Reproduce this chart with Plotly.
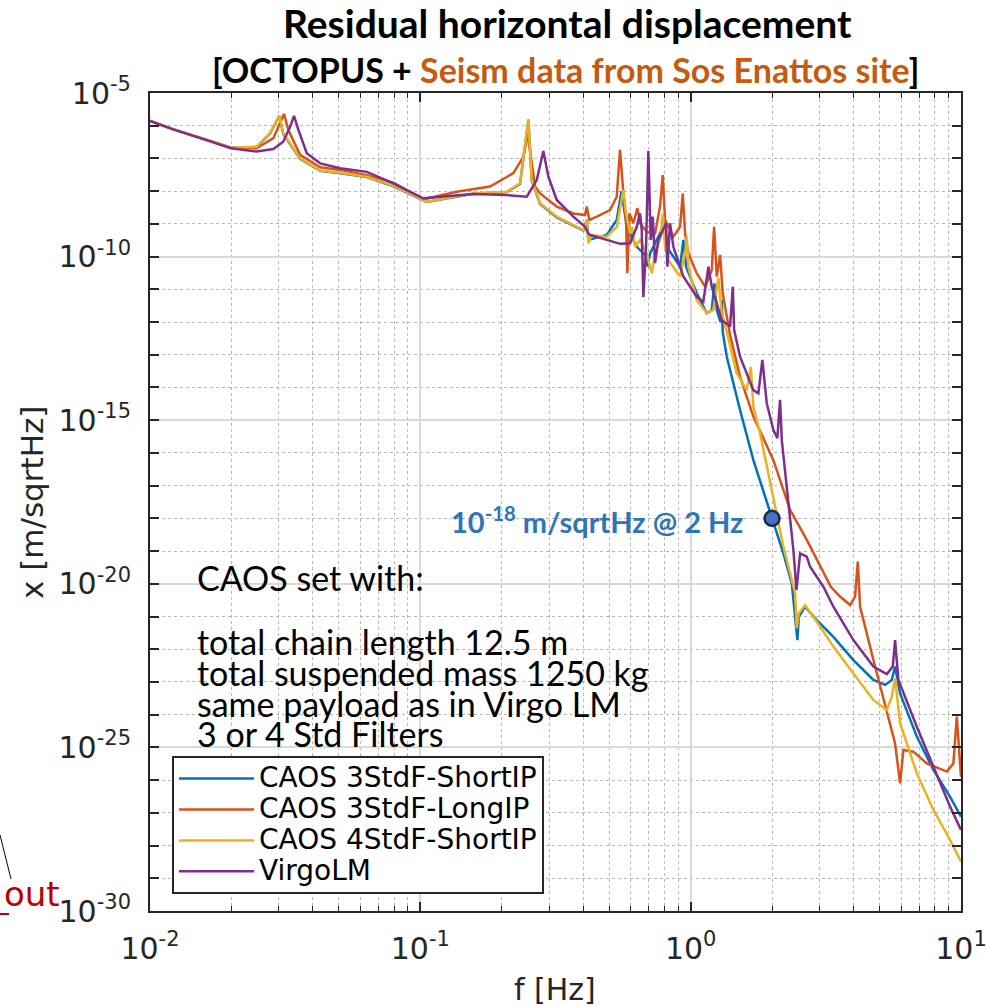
import plotly.graph_objects as go

# ---------------- data (frequency in Hz, amplitude as log10 of m/sqrtHz) ----------------
freq_blue = [0.01, 0.0122, 0.0162, 0.0199, 0.0248, 0.0278, 0.0301, 0.0311, 0.0359, 0.0426,
             0.0505, 0.0634, 0.0795, 0.1056, 0.157, 0.2087, 0.2338, 0.251, 0.2583, 0.2773,
             0.3197, 0.4009, 0.4127, 0.4184, 0.4893, 0.5327, 0.555, 0.5802, 0.6318, 0.688,
             0.6915, 0.7076, 0.7705, 0.804, 0.8159, 0.9137, 0.9397, 0.9616, 1.0534, 1.147,
             1.197, 1.224, 1.249, 1.29, 1.303, 1.314, 1.36, 1.523, 1.706, 2.0,
             2.203, 2.366, 2.482, 2.512, 2.65, 2.927, 3.373, 3.999, 4.742, 5.239,
             5.546, 5.704, 5.952, 6.864, 7.907, 9.114, 10.0]
logamp_blue = [-5.85, -6.11, -6.44, -6.67, -6.65, -6.24, -5.70, -6.25, -7.01, -7.38,
               -7.45, -7.57, -7.85, -8.33, -8.08, -8.03, -7.78, -5.82, -7.68, -8.39,
               -8.80, -9.20, -8.88, -9.49, -9.34, -8.88, -8.00, -9.09, -9.70, -10.00,
               -10.31, -9.90, -9.29, -8.88, -9.70, -10.31, -9.49, -10.31, -11.12, -11.73,
               -11.63, -10.82, -11.63, -12.00, -11.33, -12.30, -13.06, -14.69, -16.22, -18.00,
               -19.07, -19.99, -21.72, -21.01, -20.70, -21.11, -21.62, -22.33, -22.94, -23.09,
               -22.94, -22.53, -23.35, -24.67, -25.69, -26.51, -27.12]

freq_orange = [0.01, 0.0122, 0.0162, 0.0199, 0.0248, 0.0286, 0.0313, 0.0325, 0.0359, 0.0426,
               0.0505, 0.0634, 0.0795, 0.1026, 0.1364, 0.181, 0.2208, 0.2405, 0.2497, 0.2657,
               0.2773, 0.3197, 0.3681, 0.4068, 0.4127, 0.422, 0.4495, 0.5032, 0.5327, 0.5479,
               0.5636, 0.5768, 0.5832, 0.5933, 0.6138, 0.635, 0.6498, 0.688, 0.7384, 0.7705,
               0.7884, 0.804, 0.863, 0.9137, 0.935, 0.9535, 0.9806, 1.0534, 1.131, 1.197,
               1.221, 1.249, 1.285, 1.314, 1.399, 1.523, 1.706, 2.023, 2.332, 2.689,
               3.3, 3.57, 3.888, 4.057, 4.152, 4.234, 4.742, 5.316, 5.704, 5.952,
               6.122, 6.668, 7.475, 8.862, 9.374, 9.649, 10.0]
logamp_orange = [-5.85, -6.11, -6.43, -6.67, -6.69, -6.38, -5.64, -6.13, -6.89, -7.27,
                 -7.35, -7.51, -7.74, -8.25, -8.02, -7.86, -7.45, -6.95, -6.25, -7.86,
                 -8.07, -8.47, -8.68, -8.73, -8.47, -8.88, -8.78, -8.58, -8.17, -6.74,
                 -8.07, -8.88, -10.51, -8.68, -8.98, -8.52, -8.98, -9.24, -9.29, -8.47,
                 -7.51, -8.88, -9.39, -9.09, -8.07, -9.29, -9.90, -10.51, -10.92, -10.41,
                 -9.09, -10.61, -9.95, -11.12, -12.40, -13.67, -14.89, -16.22, -17.74, -18.66,
                 -20.09, -20.39, -20.65, -20.39, -19.32, -20.70, -22.33, -23.86, -24.88, -26.10,
                 -25.08, -25.13, -25.49, -25.74, -25.49, -24.06, -25.90]

freq_yellow = [0.01, 0.0122, 0.0162, 0.0199, 0.0248, 0.0278, 0.0301, 0.0311, 0.0359, 0.0426,
               0.0505, 0.0634, 0.0795, 0.1056, 0.157, 0.2087, 0.2338, 0.251, 0.2583, 0.2773,
               0.3197, 0.4009, 0.4127, 0.4184, 0.4307, 0.4893, 0.5327, 0.5636, 0.5768, 0.5968,
               0.6055, 0.6228, 0.6498, 0.688, 0.7179, 0.7384, 0.7752, 0.7884, 0.804, 0.827,
               0.9137, 0.9535, 0.9674, 0.9806, 1.0534, 1.147, 1.213, 1.266, 1.303, 1.36,
               1.481, 1.612, 1.669, 1.706, 1.806, 2.023, 2.203, 2.434, 2.469, 2.512,
               2.65, 2.927, 3.373, 3.999, 4.742, 5.316, 5.546, 5.704, 5.952, 6.864,
               7.907, 9.114, 10.0]
logamp_yellow = [-5.85, -6.11, -6.44, -6.67, -6.64, -6.22, -5.69, -6.23, -7.00, -7.37,
                 -7.44, -7.56, -7.84, -8.32, -8.07, -8.02, -7.76, -5.80, -7.66, -8.37,
                 -8.78, -9.19, -8.88, -9.59, -9.34, -9.39, -9.09, -7.96, -8.68, -9.29,
                 -9.09, -9.70, -9.49, -9.90, -10.51, -9.90, -9.39, -8.68, -9.70, -10.10,
                 -10.61, -9.90, -9.39, -10.31, -11.33, -11.73, -11.63, -10.66, -11.73, -12.30,
                 -13.57, -14.08, -13.37, -14.59, -15.40, -17.44, -18.87, -20.29, -21.36, -20.90,
                 -20.65, -21.16, -21.92, -22.74, -23.55, -23.86, -23.45, -22.89, -24.26, -25.79,
                 -26.91, -27.83, -28.49]

freq_purple = [0.01, 0.0122, 0.0162, 0.0199, 0.0248, 0.0286, 0.0311, 0.033, 0.0341, 0.0354,
               0.038, 0.0426, 0.0505, 0.0634, 0.0795, 0.1026, 0.1183, 0.157, 0.2087, 0.2475,
               0.2696, 0.2851, 0.2976, 0.3197, 0.3681, 0.4068, 0.4184, 0.4245, 0.4893, 0.5479,
               0.5968, 0.6318, 0.6498, 0.6593, 0.6683, 0.6839, 0.6974, 0.7118, 0.724, 0.7384,
               0.7594, 0.811, 0.82, 0.8391, 0.863, 0.9397, 1.0534, 1.114, 1.163, 1.197,
               1.303, 1.399, 1.432, 1.448, 1.523, 1.706, 1.78, 1.842, 1.912, 2.023,
               2.093, 2.141, 2.173, 2.268, 2.399, 2.462, 2.54, 2.689, 2.765, 3.097,
               3.373, 3.999, 4.742, 5.316, 5.593, 5.704, 5.866, 6.864, 7.907, 9.114, 10.0]
logamp_purple = [-5.85, -6.11, -6.44, -6.69, -6.79, -6.71, -6.49, -6.03, -5.70, -6.13,
                 -6.84, -7.15, -7.30, -7.41, -7.76, -8.22, -8.17, -8.09, -8.12, -8.17,
                 -7.66, -6.77, -7.56, -8.27, -8.78, -9.09, -9.29, -9.34, -9.49, -9.61,
                 -9.59, -9.09, -8.68, -9.19, -11.23, -9.70, -6.77, -9.49, -8.78, -10.20,
                 -9.49, -8.98, -10.31, -8.98, -9.70, -10.61, -11.23, -11.38, -10.31, -10.92,
                 -11.94, -12.14, -10.92, -12.24, -13.06, -14.08, -14.18, -13.16, -14.48, -15.30,
                 -15.55, -14.38, -15.61, -17.03, -18.97, -20.19, -19.07, -19.17, -19.48, -20.09,
                 -20.70, -21.72, -22.53, -22.76, -22.53, -21.72, -22.94, -24.37, -25.59, -26.81, -27.52]

series_names = ["CAOS 3StdF-ShortIP", "CAOS 3StdF-LongIP", "CAOS 4StdF-ShortIP", "VirgoLM"]

marker_freq = [2.0]
marker_amp = [1e-18]

x_major = [0.01, 0.1, 1, 10]
x_major_text = ["10<sup>-2</sup>", "10<sup>-1</sup>", "10<sup>0</sup>", "10<sup>1</sup>"]
y_major_exp = [-30, -25, -20, -15, -10, -5]
y_major_text = ["10<sup>%d</sup>" % e for e in y_major_exp]

# ---------------- figure ----------------
all_series = [(freq_blue, logamp_blue), (freq_orange, logamp_orange),
              (freq_yellow, logamp_yellow), (freq_purple, logamp_purple)]
for fa, la in all_series:
    assert len(fa) == len(la), (len(fa), len(la))

colors = ["#0072BD", "#D95319", "#EDB120", "#7E2F8E"]

fig = go.Figure()
for (fa, la), name, col in zip(all_series, series_names, colors):
    fig.add_trace(go.Scatter(x=fa, y=[10 ** v for v in la], mode="lines",
                             name="<span style='font-size:28px'>%s</span>" % name,
                             line=dict(color=col, width=2.5)))

fig.add_trace(go.Scatter(x=marker_freq, y=marker_amp, mode="markers", showlegend=False,
                         marker=dict(size=15, color="#4472C4", line=dict(color="#1C2A48", width=2.5))))

W, H = 986, 1006
L, R, T, B = 150, 25, 93, 95
PW, PH = W - L - R, H - T - B


def px(x):
    return (x - L) / PW


def py(y):
    return (H - B - y) / PH


x_minor = [k * 10.0 ** e for e in (-2, -1, 0) for k in range(2, 10)]
y_minor = [10.0 ** e for e in range(-30, -4) if e % 5 != 0]

axis_col = "#262626"
tickfont = dict(family="DejaVu Sans", size=30, color=axis_col)

fig.update_xaxes(type="log", range=[-2, 1], automargin=False, showline=True, linecolor=axis_col,
                 linewidth=2, mirror="allticks", ticks="inside", ticklen=9, tickwidth=1.5,
                 tickcolor=axis_col, tickmode="array", tickvals=x_major, ticktext=x_major_text,
                 tickfont=tickfont, ticklabelstandoff=10, ticklabeloverflow="allow",
                 showgrid=True, gridcolor="#d9d9d9", gridwidth=1.5, zeroline=False,
                 minor=dict(tickmode="array", tickvals=x_minor, ticks="inside", ticklen=5,
                            tickcolor=axis_col, tickwidth=1, showgrid=True, griddash="dot",
                            gridcolor="#b8b8b8", gridwidth=1))
fig.update_yaxes(type="log", range=[-30, -5], automargin=False, showline=True, linecolor=axis_col,
                 linewidth=2, mirror="allticks", ticks="inside", ticklen=9, tickwidth=1.5,
                 tickcolor=axis_col, tickmode="array", tickvals=[10.0 ** e for e in y_major_exp],
                 ticktext=y_major_text, tickfont=tickfont, ticklabelstandoff=11,
                 ticklabeloverflow="allow",
                 showgrid=True, gridcolor="#d9d9d9", gridwidth=1.5, zeroline=False,
                 minor=dict(tickmode="array", tickvals=y_minor, ticks="inside", ticklen=9,
                            tickcolor=axis_col, tickwidth=1.5, showgrid=True, griddash="dot",
                            gridcolor="#b8b8b8", gridwidth=1))

ann = []
ann.append(dict(x=px(567), y=py(23), xref="paper", yref="paper", showarrow=False,
                xanchor="center", yanchor="middle",
                text="<b>Residual horizontal displacement</b>",
                font=dict(family="Lato", size=39, color="black")))
ann.append(dict(x=px(565), y=py(69), xref="paper", yref="paper", showarrow=False,
                xanchor="center", yanchor="middle",
                text="<b>[OCTOPUS + <span style='color:#C55A11'>Seism data from Sos Enattos site</span>]</b>",
                font=dict(family="Lato", size=34, color="black")))
ann.append(dict(x=px(32), y=py(503), xref="paper", yref="paper", showarrow=False, textangle=-90,
                xanchor="center", yanchor="middle",
                text="x [m/sqrtHz]", font=dict(family="DejaVu Sans", size=31, color=axis_col)))
ann.append(dict(x=px(555), y=py(989), xref="paper", yref="paper", showarrow=False,
                xanchor="center", yanchor="middle",
                text="f [Hz]", font=dict(family="DejaVu Sans", size=30, color=axis_col)))

caos_lines = [("CAOS set with:", 577), ("total chain length 12.5 m", 641),
              ("total suspended mass 1250 kg", 672), ("same payload as in Virgo LM", 703),
              ("3 or 4 Std Filters", 733)]
for txt, yy in caos_lines:
    ann.append(dict(x=px(195), y=py(yy), xref="paper", yref="paper", showarrow=False,
                    xanchor="left", yanchor="middle", text=txt,
                    font=dict(family="Lato", size=34, color="black")))

ann.append(dict(x=px(745), y=py(520), xref="paper", yref="paper", showarrow=False,
                xanchor="right", yanchor="middle",
                text="<b>10<sup>-18</sup> m/sqrtHz @ 2 Hz</b>",
                font=dict(family="Lato", size=29, color="#2E75B6")))

ann.append(dict(x=px(62), y=py(894), xref="paper", yref="paper", showarrow=False,
                xanchor="right", yanchor="middle", text="out",
                font=dict(family="DejaVu Sans", size=34, color="#C00000")))

shapes = [dict(type="line", xref="paper", yref="paper", x0=px(0), y0=py(835), x1=px(11), y1=py(879),
               line=dict(color="black", width=1)),
          dict(type="line", xref="paper", yref="paper", x0=px(0), y0=py(914), x1=px(9), y1=py(914),
               line=dict(color="#C00000", width=2))]

fig.update_layout(width=W, height=H, margin=dict(l=L, r=R, t=T, b=B, autoexpand=False),
                  paper_bgcolor="white", plot_bgcolor="white",
                  annotations=ann, shapes=shapes,
                  legend=dict(x=px(172), y=py(894), xanchor="left", yanchor="bottom",
                              bgcolor="white", bordercolor=axis_col, borderwidth=2,
                              font=dict(family="DejaVu Sans", size=21.5, color="black"),
                              itemwidth=75, tracegroupgap=0),
                  showlegend=True)

fig.write_html("out.html", config={"displayModeBar": False},
               post_script="document.body.style.margin='0px';")
